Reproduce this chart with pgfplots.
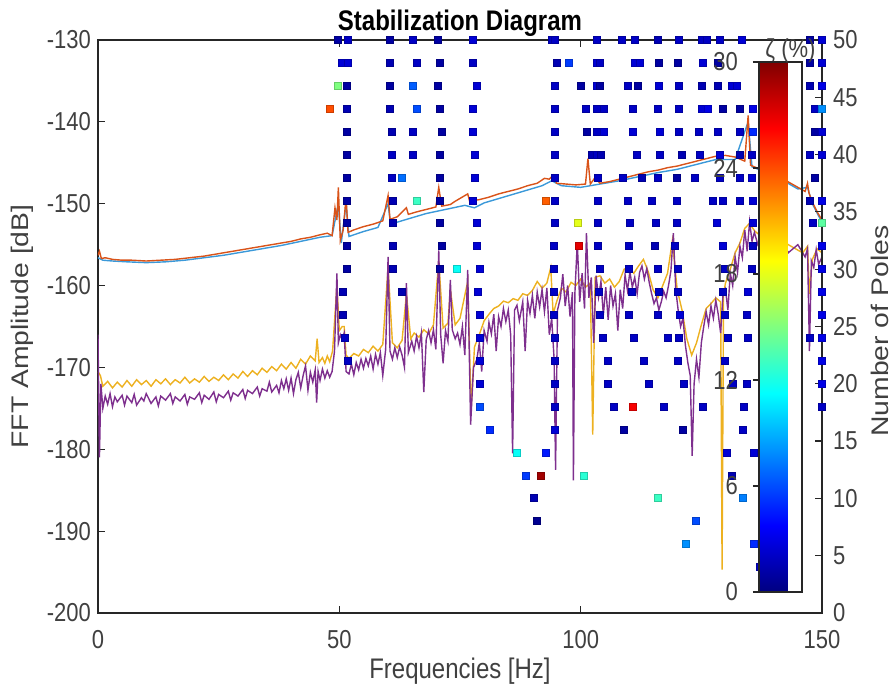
\documentclass[border=0pt]{standalone}
\usepackage{fontspec}
\setmainfont{Liberation Sans}
\usepackage{pgfplots}
\usepackage{pgfplotstable}
\pgfplotsset{compat=1.18}

\definecolor{mblue}{rgb}{0.23,0.6,0.85}
\definecolor{morange}{rgb}{0.85,0.325,0.098}
\definecolor{myellow}{rgb}{0.929,0.694,0.125}
\definecolor{mpurple}{rgb}{0.494,0.184,0.556}
\definecolor{txt}{gray}{0.25}

\pgfplotsset{
  /pgf/number format/assume math mode=true,
  every tick label/.append style={font=\fontsize{11}{12}\selectfont, text=txt, yscale=1.18},
  every axis x label/.append style={font=\fontsize{12}{14}\selectfont, text=txt, yscale=1.18},
  every axis y label/.append style={font=\fontsize{12}{14}\selectfont, text=txt, xscale=1.18},
  base/.style={width=362pt, height=286.5pt, scale only axis, at={(0,0)}, anchor=south west,
    xmin=0, xmax=150, tick align=inside, major tick length=3.5pt,
    axis line style={black!85, line width=0.6pt}, tick style={black!85, line width=0.6pt}},
}

% poles: frequency [Hz], model order, damping [%]
\pgfplotstableread[row sep=\\]{
f n z\\
49.7 50 1\\ 51.8 50 2\\ 60.5 50 1\\ 65.3 50 2\\ 70.4 50 1\\ 77.7 50 2.5\\ 94.1 50 2\\ 94.7 50 2\\ 103.4 50 2\\ 108.6 50 2\\ 111.2 50 2\\ 116.0 50 1.5\\ 120.3 50 2\\ 125.1 50 2\\ 126.2 50 2\\ 128.9 50 2\\ 133.4 50 2.5\\ 147.5 50 1\\ 150 50 2.5\\
50.5 48 2.5\\ 51.8 48 2.5\\ 60.5 48 1.5\\ 66.1 48 2\\ 70.9 48 1\\ 77.7 48 2\\ 95.1 48 1.5\\ 97.6 48 5.5\\ 103.4 48 2.5\\ 104.0 48 2\\ 111.2 48 2.5\\ 112.3 48 2.5\\ 116.2 48 1\\ 120.1 48 1\\ 125.3 48 2.5\\ 128.4 48 1\\ 147.5 48 1\\ 150 48 2.5\\
49.7 46 15\\ 51.6 46 1\\ 60.5 46 1\\ 65.3 46 6.5\\ 70.4 46 1\\ 78.5 46 2.5\\ 94.7 46 2\\ 100.1 46 1\\ 103.4 46 2.5\\ 104.0 46 1\\ 109.8 46 2\\ 111.9 46 1\\ 116.2 46 2.5\\ 120.3 46 2\\ 125.1 46 1.5\\ 128.4 46 1.5\\ 131.3 46 2.5\\ 132.4 46 2.5\\ 147.5 46 1.5\\ 150 46 3\\
48.1 44 24\\ 51.6 44 1.5\\ 60.5 44 1.5\\ 66.1 44 6\\ 70.9 44 1\\ 77.7 44 2.5\\ 94.7 44 2\\ 101.1 44 2\\ 103.4 44 2\\ 104.8 44 2\\ 110.8 44 2\\ 116.0 44 2\\ 120.3 44 2\\ 125.1 44 2.5\\ 126.4 44 3\\ 129.5 44 1\\ 133.0 44 1\\ 135.7 44 3\\ 148.5 44 2\\ 150 44 8\\
51.6 42 1\\ 60.9 42 1.5\\ 65.3 42 2\\ 71.3 42 1\\ 77.7 42 2.5\\ 94.7 42 2\\ 101.3 42 1\\ 103.4 42 2\\ 104.8 42 2.5\\ 110.8 42 2.5\\ 116.4 42 2.5\\ 120.3 42 2\\ 124.5 42 2\\ 128.4 42 2\\ 133.0 42 2\\ 135.7 42 5\\ 148.5 42 1\\ 150 42 2.5\\
51.6 40 1\\ 60.9 40 2\\ 65.3 40 2\\ 70.9 40 1\\ 78.1 40 2.5\\ 94.7 40 2\\ 102.3 40 1.5\\ 103.4 40 2\\ 104.2 40 1.5\\ 111.7 40 2\\ 116.4 40 2\\ 121.0 40 1.5\\ 124.7 40 2\\ 128.9 40 2.5\\ 133.0 40 1.5\\ 135.5 40 2\\ 147.5 40 2\\ 150 40 2.5\\
51.6 38 1\\ 60.9 38 2\\ 63.0 38 7\\ 70.9 38 1\\ 78.1 38 2.5\\ 94.7 38 2\\ 103.6 38 2\\ 108.8 38 2\\ 112.7 38 1.5\\ 116.0 38 2\\ 119.9 38 1\\ 123.7 38 2\\ 128.9 38 2\\ 133.0 38 2\\ 135.5 38 2.5\\ 148.5 38 1\\
51.6 36 1\\ 61.1 36 1.5\\ 66.1 36 13\\ 70.9 36 1\\ 77.7 36 2.5\\ 92.8 36 23.5\\ 94.7 36 2\\ 103.6 36 2\\ 109.8 36 2\\ 114.8 36 2\\ 119.9 36 2\\ 127.4 36 2\\ 129.5 36 2\\ 133.0 36 2\\ 135.7 36 2.5\\ 147.5 36 1.5\\ 150 36 3\\
51.6 34 1\\ 61.1 34 1.5\\ 70.9 34 1\\ 78.5 34 2.5\\ 94.7 34 2\\ 99.4 34 18\\ 103.6 34 2\\ 110.2 34 2\\ 115.6 34 2\\ 119.9 34 2\\ 128.2 34 2.5\\ 135.7 34 2.5\\ 148.1 34 2\\ 150 34 14\\
51.6 32 1\\ 61.1 32 1.5\\ 71.3 32 1\\ 78.5 32 2.5\\ 94.5 32 2\\ 99.6 32 27\\ 103.6 32 2\\ 110.0 32 2\\ 115.4 32 1.5\\ 119.5 32 2\\ 129.5 32 2.5\\ 135.7 32 2\\ 150 32 3\\
51.6 30 1\\ 61.1 30 1.5\\ 70.9 30 1\\ 74.4 30 11.5\\ 79.1 30 2.5\\ 94.5 30 2\\ 104.0 30 2\\ 110.0 30 2\\ 116.0 30 2\\ 120.1 30 2\\ 129.9 30 2\\ 135.5 30 2\\ 150 30 3\\
50.8 28 1.5\\ 63.0 28 1.5\\ 78.7 28 2.5\\ 94.5 28 2\\ 103.8 28 2\\ 110.6 28 2\\ 116.2 28 2\\ 120.1 28 2\\ 129.5 28 2\\ 134.7 28 2.5\\ 150 28 3\\
50.8 26 1.5\\ 79.1 26 2.5\\ 94.5 26 2\\ 104.0 26 2\\ 110.0 26 2\\ 116.0 26 2\\ 120.6 26 2.5\\ 129.9 26 2\\ 134.5 26 2\\ 150 26 3\\
51.2 24 2\\ 79.1 24 2.5\\ 94.7 24 2\\ 104.6 24 2\\ 111.0 24 2\\ 118.1 24 2\\ 120.3 24 2\\ 130.5 24 2\\ 134.7 24 2\\ 147.5 24 2\\ 150 24 3\\
51.8 22 2\\ 79.1 22 2.5\\ 94.7 22 2\\ 105.7 22 2\\ 113.1 22 2\\ 120.1 22 2\\ 129.9 22 2\\ 150 22 3\\
79.1 20 2.5\\ 94.7 20 2\\ 105.7 20 2\\ 114.1 20 2\\ 121.4 20 2\\ 131.6 20 2\\ 134.5 20 2\\ 150 20 3\\
79.1 18 6\\ 94.7 18 2\\ 106.9 18 2\\ 110.8 18 26.5\\ 117.3 18 2\\ 125.3 18 2\\ 133.8 18 2\\ 150 18 2\\
81.2 16 5\\ 94.7 16 2.5\\ 109.0 16 1\\ 121.2 16 1\\ 133.6 16 2\\
86.8 14 11.5\\ 92.8 14 4.5\\ 130.3 14 2.5\\ 135.9 14 2.5\\
88.7 12 5.5\\ 91.8 12 29\\ 100.7 12 12.5\\ 131.3 12 1.5\\
90.3 10 1.5\\ 116.0 10 13\\ 133.6 10 7.5\\
91.0 8 0.5\\ 123.9 8 6\\
121.8 6 8\\ 135.9 6 5\\
137.1 4 2\\
}\poles

\begin{document}
\begin{tikzpicture}
\path[use as bounding box] (-49pt,-37.5pt) rectangle (399pt,306.5pt);

\begin{axis}[base,
  ymin=-200, ymax=-130, xtick={0,50,100,150}, ytick={-200,-190,...,-130},
  ytick pos=left,
  xlabel={Frequencies [Hz]}, ylabel={FFT Amplitude [dB]},
  xticklabel style={yshift=-4pt},
  xlabel style={yshift=3pt},
  title={Stabilization Diagram},
  title style={font=\fontsize{12}{14}\selectfont\bfseries, yscale=1.18, yshift=-7pt},
  every axis plot/.append style={line width=0.7pt},
]
\addplot[mblue] coordinates {
(0,-156.6) (1,-156.9) (3,-157) (6,-157.1) (10,-157.2) (14,-157.1) (18,-156.9) (22,-156.6) (26,-156.3)
(30,-155.9) (34,-155.5) (38,-155.1) (42,-154.6) (46,-154.1) (48.5,-153.9) (49.8,-150) (50.4,-154.8)
(51.4,-150) (52,-154) (55,-153.4) (58,-152.9) (60.1,-150) (60.6,-152.5) (64,-151.9) (68,-151.2)
(72,-150.7) (76,-150.2) (78,-150.5) (80,-149.9) (84,-149.2) (88,-148.5) (92,-147.8) (94,-147.2)
(96,-147.8) (100,-148) (104,-147.6) (108,-147.2) (112,-146.7) (116,-146.2) (120,-145.8) (124,-145.2)
(128,-144.6) (132,-144.6) (134.7,-140) (135.5,-145.5) (140,-146.5) (145,-148.2) (147,-148) (148,-150) (150,-152.3)};
\addplot[morange] coordinates {
(0,-156.3) (0.3,-155.8) (0.7,-156.7) (1.5,-156.6) (3,-156.8) (5,-156.9) (7,-156.9) (10,-157) (13,-156.9)
(16,-156.8) (19,-156.6) (22,-156.4) (25,-156.1) (28,-155.8) (31,-155.5) (34,-155.2) (37,-154.9) (40,-154.6)
(42,-154.3) (44,-154.1) (46,-153.8) (47.5,-153.6) (48.5,-153.9) (49.1,-150.5) (49.5,-152) (49.8,-148)
(50.2,-154.5) (50.8,-153.2) (51.4,-149.2) (51.8,-153.5) (53,-153.2) (55,-152.8) (57,-152.5) (59,-152.1)
(60.1,-149) (60.5,-151.9) (62,-151.6) (63.9,-150.5) (64.3,-151.3) (66,-151) (68,-150.7) (70,-150.4)
(70.6,-148) (71.2,-150.3) (73,-150.1) (74,-149.7) (76.6,-148.8) (77,-149.7) (79,-149.5) (81,-149.2)
(83,-148.8) (85,-148.5) (87,-148.2) (89,-147.8) (91,-147.5) (92.5,-146.9) (93.5,-147) (94.3,-146.5)
(95,-147.5) (97,-147.6) (99,-147.7) (101,-147.6) (101.5,-144.5) (102,-147.6) (103,-146.8) (104,-147.5)
(106,-147.3) (108,-147) (110,-146.7) (112,-146.4) (114,-146.1) (116,-145.9) (118,-145.6) (120,-145.4)
(122,-145.1) (124,-144.8) (126,-144.5) (128,-144.2) (130,-144.1) (132,-144.3) (134,-144.8) (134.7,-139.2)
(135.2,-145.3) (136,-145.5) (138,-146) (142,-147) (145,-148) (146.5,-148.5) (147,-147.5) (147.3,-148.7)
(148,-149.8) (149,-151) (150,-152)};
\addplot[myellow] coordinates {
(0,-170.5) (0.5,-171) (1,-172.3) (2,-171.7) (3,-172.5) (4,-171.8) (5,-172.4) (6,-171.6) (7,-172.3) (8,-171.5)
(9,-172.1) (10,-171.6) (11,-172.3) (12,-171.5) (13,-172) (14,-171.4) (15,-172.1) (16,-171.5) (17,-171.9)
(18,-171.2) (19,-171.9) (20,-171.4) (21,-171.8) (22,-171.1) (23,-171.7) (24,-171.2) (25,-171.6) (26,-170.9)
(27,-171.5) (28,-170.8) (29,-171.3) (30,-170.5) (31,-171.1) (32,-170.4) (33,-170.9) (34,-170.1) (35,-170.6)
(36,-169.9) (37,-170.4) (38,-169.6) (39,-170.2) (40,-169.4) (41,-170.1) (42,-169) (43,-169.6) (44,-168.6)
(45,-169.2) (45.4,-166.5) (45.8,-169.4) (46.5,-168.8) (47,-169.5) (47.5,-168.6) (48,-169.3) (48.6,-168)
(49.5,-160) (50,-165.5) (50.6,-165) (51,-165) (51.4,-168.5) (52,-168.9) (53,-168.3) (54,-168.6) (55,-167.8)
(56,-168.2) (57,-167.4) (58,-168) (59,-167.2) (60.1,-157.8) (61,-167) (62,-167.6) (63,-166.7) (63.9,-161)
(64.8,-166.5) (65.5,-165.8) (66.5,-166.3) (67.5,-165.4) (68.5,-165.9) (69.5,-164.8) (70.6,-157) (71.5,-165.2)
(72.5,-164.6) (73,-160.5) (74,-164.8) (75,-164) (76.6,-159.5) (77.3,-175) (78,-167.5) (79,-166) (80,-164.3)
(81,-163.5) (82,-162.8) (83,-162.5) (84,-161.9) (85,-162.1) (86,-161.6) (87,-161.8) (88,-161) (89,-161.2)
(90,-160.6) (91,-159.5) (92,-160.3) (93,-159.7) (93.8,-157.8) (94.3,-163.5) (95,-162) (96,-160.3) (97,-160.8)
(98,-159.6) (99,-160) (100,-159.2) (101,-160.2) (102,-159.7) (102.5,-178.2) (103,-159) (104,-158.8)
(105,-159.7) (106,-159.2) (107,-160.2) (108,-159.5) (109,-158) (110,-157.8) (111,-158.5) (112,-157.6)
(113,-156.8) (114,-158.3) (115,-160.5) (116,-161.5) (117,-160) (118,-158.5) (119,-154.5) (120,-160.5)
(121,-163) (122,-166.5) (123,-168.5) (124,-167) (125,-164.8) (126,-162.8) (127,-162.2) (128,-161.5)
(129,-162) (129.3,-194.7) (129.6,-161) (130,-159.7) (131,-158) (132,-156) (133,-154.8) (134,-153)
(135,-152.4) (136,-153.3) (137,-153.8) (140,-154) (143,-155) (146,-156) (147,-155.2) (147.4,-161)
(148,-156.8) (149,-155.5) (150,-156)};
\addplot[mpurple] coordinates {
(0,-166) (0.3,-181) (0.6,-172) (1,-175) (1.5,-173.5) (2,-174.5) (2.5,-173.2) (3,-174.8) (3.5,-173.6) (4,-174.2)
(5,-173.4) (5.5,-174.6) (6,-173.5) (7,-174.3) (7.5,-173.3) (8,-174.6) (9,-173.7) (9.5,-174.1) (10,-173.2)
(11,-174.4) (12,-173.6) (12.5,-174.7) (13,-173.5) (14,-174) (15,-173.2) (15.5,-174.4) (16,-173.6) (17,-174.1)
(18,-173.3) (18.5,-174.5) (19,-173.6) (20,-173.9) (21,-173.1) (21.5,-174.3) (22,-173.4) (23,-173.9) (24,-173)
(24.5,-174.2) (25,-173.3) (26,-173.7) (27,-172.9) (27.5,-174) (28,-173.1) (29,-173.5) (30,-172.7) (30.5,-173.8)
(31,-172.8) (32,-173.2) (33,-172.4) (33.5,-173.5) (34,-172.6) (35,-172.9) (35.5,-171.8) (36,-173) (37,-172.2)
(37.5,-173.1) (38,-171.6) (38.5,-172.6) (39,-171.4) (39.5,-172.8) (40,-171.3) (40.5,-173.2) (41,-171.5)
(41.5,-170.6) (42,-172.5) (42.5,-171) (43,-169.8) (43.5,-172.8) (44,-170.6) (44.5,-171.8) (45,-170.3)
(45.3,-174.3) (45.6,-170.5) (46,-171.6) (46.5,-170.2) (47,-171.3) (47.5,-170.4) (48,-171.2) (48.5,-170.5)
(49,-168) (49.5,-158.5) (49.8,-167) (50.2,-166) (50.6,-166.6) (51,-165.8) (51.4,-170.5) (52,-170.8)
(52.5,-169.6) (53,-170.9) (53.5,-169.4) (54,-170.3) (54.5,-169) (55,-170.1) (55.5,-168.9) (56,-169.8)
(56.5,-168.6) (57,-170.2) (57.5,-168.4) (58,-169.6) (58.5,-168.2) (59,-171) (59.6,-167.8) (60.1,-156.5)
(60.5,-168) (61,-169) (61.5,-167.6) (62,-168.8) (62.5,-167.5) (63,-168.5) (63.5,-170) (63.9,-159.7)
(64.3,-168.2) (65,-166.8) (65.5,-168) (66,-166.2) (66.5,-167.6) (67,-165.8) (67.5,-173) (68,-166.6)
(68.5,-165.5) (69,-167) (69.5,-165.4) (70,-167.8) (70.6,-155.7) (71,-166) (71.5,-169.5) (72,-165.5)
(72.5,-166.8) (73,-159.3) (73.4,-165.4) (74,-166.5) (74.5,-165.8) (75,-167.2) (75.5,-165) (76,-168.5)
(76.6,-158.1) (77.2,-177) (77.8,-170) (78.5,-169) (79,-167) (79.5,-170.5) (80,-165.5) (80.6,-166.8)
(81,-164.5) (81.5,-165.9) (82,-163.5) (82.5,-168) (83,-163.8) (83.5,-165) (84,-162.8) (84.5,-164.4)
(85,-163) (85.5,-166) (85.9,-180.5) (86.3,-163) (86.8,-162.4) (87.3,-164.3) (88,-162) (88.5,-168)
(89,-161.8) (89.5,-163.4) (90,-161.2) (90.5,-164) (91,-160.8) (91.5,-162.6) (92,-160.5) (92.5,-163.2)
(93,-160.3) (93.5,-166) (94,-164) (94.5,-169) (94.8,-182.5) (95.2,-163) (95.8,-161.5) (96.3,-158.6)
(96.8,-162.5) (97.3,-160) (97.8,-163.8) (98.3,-160.8) (98.5,-183.8) (98.8,-161) (99.3,-154.7) (99.8,-162)
(100.3,-158.5) (100.8,-162.8) (101.2,-153.6) (101.7,-161.5) (102.2,-159) (102.7,-167) (103.2,-158.8)
(103.7,-161.4) (104.2,-159.5) (104.7,-163.6) (105.2,-160.2) (105.7,-164.2) (106.2,-160) (106.7,-162.5)
(107.2,-161) (107.7,-165.5) (108.2,-160.5) (108.7,-162.8) (109.2,-158.7) (109.7,-160.6) (110.2,-158.3)
(110.7,-160.2) (111.2,-159) (111.7,-161) (112.2,-158.4) (112.7,-157.6) (113.2,-159.2) (113.7,-157.9)
(114.2,-159.6) (114.7,-161) (115.2,-162.2) (115.7,-161.5) (116.2,-163) (116.7,-162) (117.2,-160.7)
(117.7,-161.5) (118.2,-160) (118.7,-158.2) (119.2,-153.6) (119.7,-160.5) (120.2,-163) (120.7,-165)
(121.2,-164) (121.7,-167.3) (122.2,-169.4) (122.7,-171) (123.1,-180.8) (123.5,-172) (124,-169) (124.5,-171.2)
(125,-167) (125.5,-165) (126,-163.2) (126.5,-164.8) (127,-162.5) (127.5,-164) (128,-161.8) (128.5,-163.5)
(129,-165.8) (129.5,-161) (130,-160.4) (130.5,-163) (131,-158.5) (131.5,-160) (132,-156.5) (132.5,-158.4)
(133,-155.2) (133.5,-156.6) (134,-153.2) (134.5,-155.8) (135,-152.2) (135.5,-154.6) (136,-153.5) (136.7,-155)
(137.5,-154) (139,-155) (141,-153) (143,-156) (145,-155) (146.5,-156.5) (147,-155.5) (147.4,-168) (147.8,-157)
(148.3,-157.8) (148.8,-155.6) (149.3,-157.4) (150,-156.5)};
\end{axis}

\begin{axis}[base,
  ymin=0, ymax=50, ytick={0,5,...,50},
  axis x line=none, axis y line*=right,
  ylabel={Number of Poles},
  yticklabel style={xshift=2pt},
  ylabel style={xshift=-2pt},
  clip=false,
  colormap/jet, point meta min=0, point meta max=30,
  colorbar,
  colorbar style={
    at={(parent axis.north east)}, anchor=north east, xshift=-18.54pt, yshift=-11pt,
    width=21.5pt, height=265pt, scale only axis,
    ytick={0,6,...,30}, yticklabel pos=left, ytick pos=left,
    yticklabel style={xshift=-4pt},
    tick align=outside, major tick length=3pt,
    axis line style={black!85, line width=0.6pt}, tick style={black!85, line width=0.6pt},
    title={ζ (\%)},
    title style={font=\fontsize{11}{12}\selectfont, text=txt, yscale=1.18, xshift=5pt, yshift=-9pt},
  },
]
\addplot[scatter, only marks, mark=square*, mark size=1.75pt, scatter src=explicit]
  table[x=f, y=n, meta=z] {\poles};
\end{axis}
\end{tikzpicture}
\end{document}
